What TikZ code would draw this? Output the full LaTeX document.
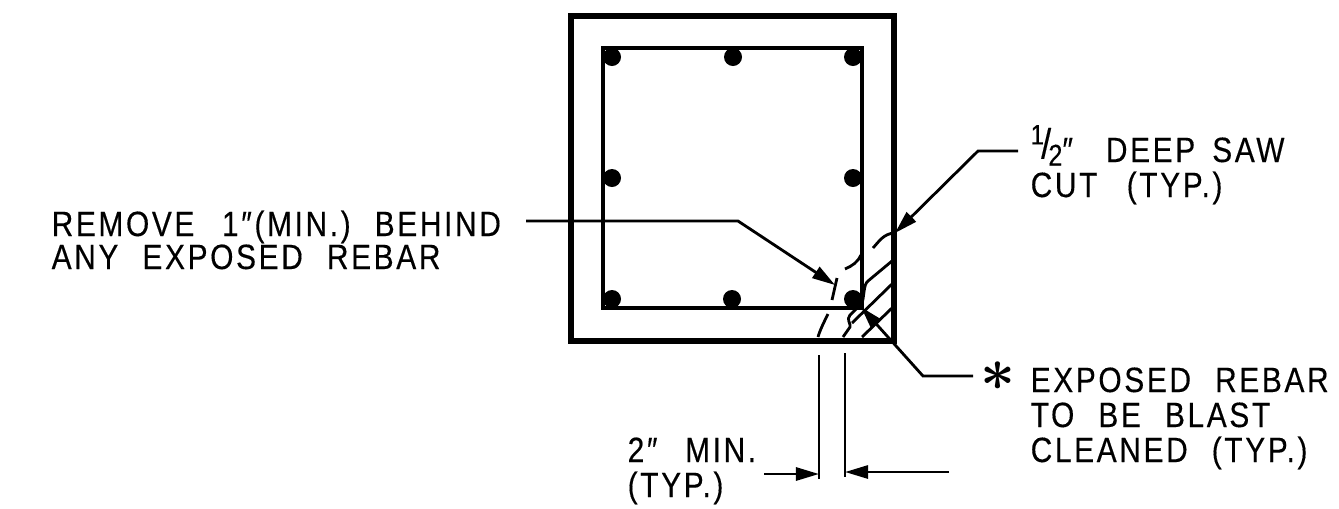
\documentclass[tikz,border=0pt]{standalone}
\usepackage{fontspec}
\newfontfamily\cadfont[LetterSpace=7.5,FakeStretch=0.85,WordSpace=2.2,FakeBold=0.3]{Liberation Sans}
\usetikzlibrary{arrows.meta}
\tikzset{
	wall/.style={line width=1.5pt},
	rebarline/.style={line width=1pt},
	thin line/.style={line width=0.8pt},
	leader/.style={thin line,-{Stealth[length=0.23cm,width=0.13cm,inset=0pt]}},
	rebar/.style={circle,fill=black,inner sep=0pt,minimum size=0.18cm},
	note/.style={anchor=base west,inner sep=0pt,align=left,font=\cadfont\fontsize{10}{10}\selectfont}
}
\begin{document}
\begin{tikzpicture}[x=0.01cm,y=-0.01cm]
	\useasboundingbox (0,0) rectangle (1339,508);
	% Beton und Bewehrung
	\draw[wall] (571,16) rectangle (894,341);
	\draw[rebarline] (603,48) rectangle (862,308);
	\foreach \px/\py/\nm in {612/57/a,733/57/b,853/57/c,612/178/d,853/178/e,612/299/f,732/299/g,853/299/h}
		\node[rebar] (bar\nm) at (\px,\py) {};
	% Saegeschnitt
	\draw[thin line] (873,248) .. controls (880,240) and (884,234) .. (894,233);
	\draw[thin line] (845,269) .. controls (852,266) and (858,262) .. (861,255);
	\draw[thin line] (837,278) -- (832,300);
	\draw[thin line] (828,314) .. controls (824,322) and (820,330) .. (818,337);
	% Schraffur
	\draw[thin line] (892,261) -- (868,281) .. controls (863,285) and (865,295) .. (861,307);
	\draw[thin line] (892,284) -- (852,323);
	\draw[thin line] (860,305) -- (850,315) .. controls (846,320) and (851,323) .. (850,327) -- (843,337);
	\draw[thin line] (892,308) -- (862,337);
	% Texte
	\node[note] (removetxt) at (51,236) {REMOVE\kern0.1em{} 1″(MIN.) BEHIND};
	\node[note] (anytxt) at (51,269) {ANY EXPOSED REBAR};
	\node[note] (sawtxt) at (1030,162) {\raisebox{0.5em}{\fontsize{8}{7}\selectfont 1}\kern-0.08em\raisebox{0.1em}{\fontsize{12}{7}\selectfont /}\kern-0.08em\raisebox{-0.1em}{\fontsize{8.5}{7}\selectfont 2}″\kern0.25em{} DEEP\kern-0.2em{} SAW};
	\node[note] (cuttxt) at (1030,197) {CUT\kern0.15em{} (TYP.)};
	\node[anchor=center,inner sep=0pt,font=\fontsize{17}{17}\selectfont\boldmath] (startxt) at (998,376) {$\ast$};
	\node[note] (exposedtxt) at (1030,392) {EXPOSED REBAR};
	\node[note] (tobetxt) at (1030,427) {TO BE BLAST};
	\node[note] (cleanedtxt) at (1030,462) {CLEANED (TYP.)};
	\node[note] (mintxt) at (627,462) {2″\kern0.1em{} MIN.};
	\node[note] (typtxt) at (627,497) {(TYP.)};
	% Hinweislinien
	\coordinate (removefrom) at (526,221);
	\coordinate (removeknee) at (738,221);
	\coordinate (removetip) at (835,285);
	\draw[leader] (removefrom) -- (removeknee) -- (removetip);
	\coordinate (sawfrom) at (1018,151);
	\coordinate (sawknee) at (978,151);
	\coordinate (sawtip) at (895,233);
	\draw[leader] (sawfrom) -- (sawknee) -- (sawtip);
	\coordinate (barfrom) at (973,376);
	\coordinate (barknee) at (923,376);
	\coordinate (bartip) at (861,307);
	\draw[leader] (barfrom) -- (barknee) -- (bartip);
	% Masse
	\coordinate (dimla) at (819,355);
	\coordinate (dimlb) at (819,479);
	\coordinate (dimra) at (845,353);
	\coordinate (dimrb) at (845,477);
	\draw[thin line] (dimla) -- (dimlb);
	\draw[thin line] (dimra) -- (dimrb);
	\coordinate (dimlfrom) at (764,474);
	\coordinate (dimrfrom) at (949,472);
	\draw[leader] (dimlfrom) -- (dimlfrom -| dimla);
	\draw[leader] (dimrfrom) -- (dimrfrom -| dimra);
\end{tikzpicture}
\end{document}
